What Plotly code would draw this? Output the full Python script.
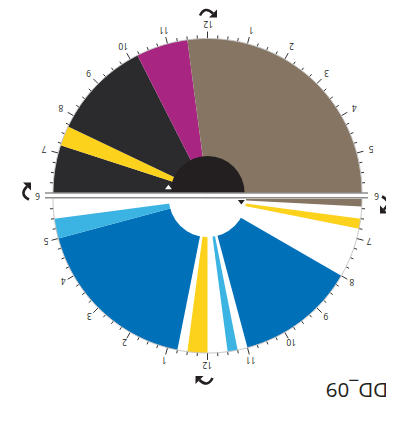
import math
import plotly.graph_objects as go

# night half (18:00 -> 06:00), hours on a 24h clock (values > 24 = next morning)
night_start = [18.0, 19.2, 19.7, 22.2, 23.5]
night_end = [19.2, 19.7, 22.2, 23.5, 30.0]
night_color = ["#2b2a2c", "#fdd21c", "#2b2a2c", "#a82682", "#857562"]

# day half (06:00 -> 18:00)
day_start = [6.0, 6.5, 8.0, 11.25, 12.0, 12.75, 17.0]
day_end = [6.2, 6.75, 11.0, 11.5, 12.5, 17.0, 17.5]
day_color = ["#857562", "#fdd21c", "#0070b8", "#3bb3e3", "#fdd21c", "#0070b8", "#3bb3e3"]

# small markers at the inner circle
sleep_mark = [18.5]
wake_mark = [6.35]

clock_labels = ["12", "1", "2", "3", "4", "5", "6", "7", "8", "9", "10", "11"]
title = "DD_09"

# the page puts the figure 8px in from the top-left corner
W, H = 386, 414
R_PX = 154.5            # radius of the wedges in px
R_MAX = 1.1             # radial range, leaves room for the tick strokes
CX = 199.5
CY_TOP, CY_BOT = 185.0, 190.5


def deg(h):
    return (h * 15) % 360


def segments(starts, ends):
    theta = [deg((a + b) / 2) for a, b in zip(starts, ends)]
    width = [(b - a) * 15 for a, b in zip(starts, ends)]
    return theta, width


def ticks_and_rim(h0, sp):
    # quarter-hour tick strokes and the thin rim for one half
    rr, tt = [], []
    for q in range(49):
        h = h0 + q / 4
        if q in (0, 48):
            continue
        out = 1.045 if q % 4 == 0 else 1.022
        rr += [1.0, out, None]
        tt += [deg(h), deg(h), None]
    fig.add_trace(go.Scatterpolar(r=rr, theta=tt, mode="lines", subplot=sp,
                                  line=dict(color="#333", width=1), hoverinfo="skip"))
    arc = [h0 + i / 20 for i in range(241)]
    fig.add_trace(go.Scatterpolar(r=[1.0] * len(arc), theta=[deg(h) for h in arc], mode="lines",
                                  subplot=sp, line=dict(color="#c4c4c4", width=1),
                                  hoverinfo="skip"))


fig = go.Figure()

t, w = segments(night_start, night_end)
fig.add_trace(go.Barpolar(r=[1] * len(t), theta=t, width=w, marker_color=night_color,
                          marker_line_width=0, subplot="polar", hoverinfo="skip"))
fig.add_trace(go.Barpolar(r=[0.24], theta=[0], width=[180], marker_color="#231f20",
                          marker_line_width=0, subplot="polar", hoverinfo="skip"))
fig.add_trace(go.Scatterpolar(r=[0.255], theta=[deg(h) for h in sleep_mark], mode="markers",
                              marker=dict(symbol="triangle-up", size=6, color="white"),
                              subplot="polar", hoverinfo="skip"))
ticks_and_rim(18, "polar")

t, w = segments(day_start, day_end)
fig.add_trace(go.Barpolar(r=[1] * len(t), theta=t, width=w, marker_color=day_color,
                          marker_line_width=0, subplot="polar2", hoverinfo="skip"))
fig.add_trace(go.Barpolar(r=[0.25], theta=[180], width=[180], marker_color="white",
                          marker_line_width=0, subplot="polar2", hoverinfo="skip"))
fig.add_trace(go.Scatterpolar(r=[0.22], theta=[deg(h) for h in wake_mark], mode="markers",
                              marker=dict(symbol="triangle-down", size=6, color="#231f20"),
                              subplot="polar2", hoverinfo="skip"))
ticks_and_rim(6, "polar2")

half = R_PX * R_MAX


def polar_layout(sector, cy, top):
    y_top = cy - half if top else cy
    y_bot = cy if top else cy + half
    return dict(
        sector=sector, bgcolor="rgba(0,0,0,0)",
        domain=dict(x=[(CX - half) / W, (CX + half) / W], y=[(H - y_bot) / H, (H - y_top) / H]),
        radialaxis=dict(visible=False, range=[0, R_MAX]),
        angularaxis=dict(rotation=90, direction="clockwise", showgrid=False, showline=False,
                         ticks="", showticklabels=False),
    )


def px(x, y):
    return f"{x / W:.5f},{(H - y) / H:.5f}"


# curved direction arrows: one shape in local px, turned for each side of the dial
ARC = [(-8.5, 3), (-3.5, -7), (4.5, 1)]
HEAD = [(8.5, 5), (8.5, -3), (0.5, 5)]
arrow_shapes = []
for ang, ax, ay in [(0, 200.5, 4.5), (180, 196, 373), (-90, 18, 183), (90, 377, 197)]:
    c, s = math.cos(math.radians(ang)), math.sin(math.radians(ang))
    rot = lambda p: (ax + p[0] * c - p[1] * s, ay + p[0] * s + p[1] * c)
    a = [rot(p) for p in ARC]
    hd = [rot(p) for p in HEAD]
    arrow_shapes.append(dict(type="path", xref="paper", yref="paper",
                             path=f"M{px(*a[0])} Q{px(*a[1])} {px(*a[2])}",
                             line=dict(color="#231f20", width=2.6)))
    arrow_shapes.append(dict(type="path", xref="paper", yref="paper",
                             path=f"M{px(*hd[0])} L{px(*hd[1])} L{px(*hd[2])} Z",
                             fillcolor="#231f20", line=dict(width=0)))

line_y = [193 - 8, 197.8 - 8]
fig.update_layout(
    width=W, height=H, showlegend=False, paper_bgcolor="white",
    margin=dict(l=0, r=0, t=0, b=0),
    polar=polar_layout([0, 180], CY_TOP, True),
    polar2=polar_layout([180, 360], CY_BOT, False),
    shapes=[dict(type="line", xref="paper", yref="paper", x0=37 / W, x1=360 / W,
                 y0=(H - y) / H, y1=(H - y) / H, line=dict(color="#8c8c8c", width=1.5))
            for y in line_y] + arrow_shapes,
)


def note(text, x, y, size=8.5):
    fig.add_annotation(xref="paper", yref="paper", x=x / W, y=(H - y) / H, showarrow=False,
                       xanchor="center", yanchor="middle", text=text, textangle=180,
                       font=dict(size=size, color="#231f20", family="Open Sans"))


# hour labels, upside down like the reference
for h in range(19, 30):
    a = math.radians(deg(h))
    note(clock_labels[h % 12], CX + 169 * math.sin(a), CY_TOP - 169 * math.cos(a))
for h in range(7, 18):
    a = math.radians(deg(h))
    note(clock_labels[h % 12], CX + 167 * math.sin(a), CY_BOT - 167 * math.cos(a))
mid = (CY_TOP + CY_BOT) / 2 + 0.5
note(clock_labels[6], CX - 169.5, mid)
note(clock_labels[6], CX + 169.5, mid)

note(title, 349, 383, size=20.5)

fig.write_html("out.html")
